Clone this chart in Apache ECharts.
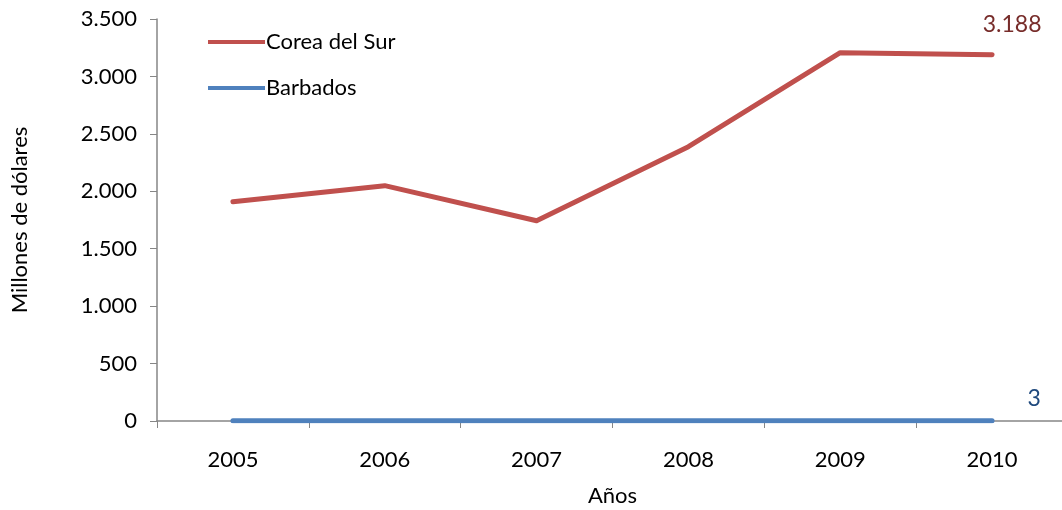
<!DOCTYPE html>
<html>
<head>
<meta charset="utf-8">
<script src="https://cdn.jsdelivr.net/npm/echarts@6/dist/echarts.min.js"></script>
<style>
  html, body { margin: 0; padding: 0; background: #fff; }
  #chart { width: 1062px; height: 510px; }
</style>
</head>
<body>
<div id="chart"></div>
<script>
const years = ['2005', '2006', '2007', '2008', '2009', '2010']
const coreaDelSur = [1909, 2049, 1744, 2388, 3207, 3188]
const barbados = [2, 3, 2, 3, 3, 3]
const yTicks = [0, 500, 1000, 1500, 2000, 2500, 3000, 3500]

const red = '#C0504D'
const blue = '#4F81BD'
const axisGray = '#868686'
const font = 'Lato, "Open Sans", sans-serif'

const fmt = v => String(v).replace(/\B(?=(\d{3})+(?!\d))/g, '.')

// label only on the last point
const lastLabel = (color, offset) => ({
  show: true,
  position: 'top',
  offset: offset,
  color: color,
  fontSize: 23,
  fontFamily: font,
  formatter: p => p.dataIndex === years.length - 1 ? fmt(p.value) : ''
})

const chart = echarts.init(document.getElementById('chart'))
chart.setOption({
  animation: false,
  grid: { left: 157, right: -6, top: 19, bottom: 89, outerBoundsMode: 'none', containLabel: false },
  legend: {
    left: 203,
    top: 26,
    orient: 'vertical',
    itemGap: 24,
    itemWidth: 57,
    itemHeight: 28,
    icon: 'path://M0,12 L56,12 L56,16 L0,16 Z',
    textStyle: { fontSize: 22, fontFamily: font, color: '#000', padding: [0, 0, 0, -4] },
    data: [
      { name: 'Corea del Sur', itemStyle: { color: red } },
      { name: 'Barbados', itemStyle: { color: blue } }
    ]
  },
  xAxis: {
    type: 'category',
    data: years,
    boundaryGap: true,
    name: 'Años',
    nameLocation: 'middle',
    nameGap: 64,
    nameTextStyle: { fontSize: 22, fontFamily: font, color: '#000' },
    axisLine: { lineStyle: { color: axisGray, width: 1.5 } },
    axisTick: { show: true, alignWithLabel: false, length: 7, lineStyle: { color: axisGray } },
    axisLabel: { fontSize: 22, fontFamily: font, color: '#000', margin: 28 },
    splitLine: { show: false }
  },
  yAxis: {
    type: 'value',
    min: yTicks[0],
    max: yTicks[yTicks.length - 1],
    interval: 500,
    name: 'Millones de dólares',
    nameLocation: 'middle',
    nameGap: 126,
    nameRotate: 90,
    nameTextStyle: { fontSize: 22, fontFamily: font, color: '#000' },
    axisLine: { show: true, lineStyle: { color: axisGray, width: 1.5 } },
    axisTick: { show: true, length: 7, lineStyle: { color: axisGray } },
    axisLabel: { fontSize: 22, fontFamily: font, color: '#000', margin: 20, formatter: fmt },
    splitLine: { show: false }
  },
  series: [
    {
      name: 'Corea del Sur',
      type: 'line',
      data: coreaDelSur,
      symbol: 'circle',
      symbolSize: 0,
      showSymbol: true,
      lineStyle: { color: red, width: 5, cap: 'round', join: 'round' },
      itemStyle: { color: red },
      label: lastLabel('#772C2A', [20, -14]),
      z: 3
    },
    {
      name: 'Barbados',
      type: 'line',
      data: barbados,
      symbol: 'circle',
      symbolSize: 0,
      showSymbol: true,
      lineStyle: { color: blue, width: 5, cap: 'round', join: 'round' },
      itemStyle: { color: blue },
      label: lastLabel('#1F497D', [42, -6]),
      z: 3
    }
  ]
})
</script>
</body>
</html>
